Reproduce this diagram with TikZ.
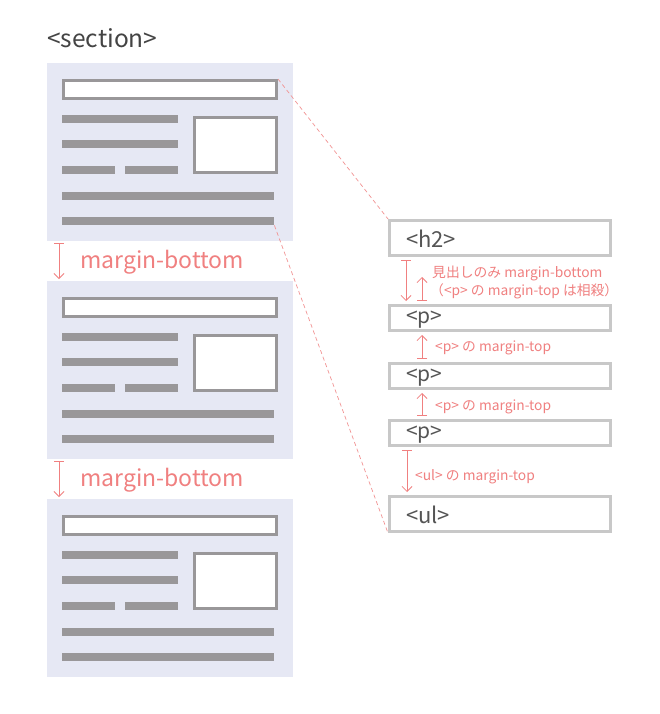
\documentclass[tikz,border=0pt]{standalone}
\usepackage{fontspec}
\setmainfont{Noto Sans CJK JP}
\usepackage{xcolor}
\usetikzlibrary{arrows.meta, positioning}

\definecolor{panelbg}{HTML}{E6E8F4}
\definecolor{bargray}{HTML}{999799}
\definecolor{boxgray}{HTML}{C8C8C8}
\definecolor{salmon}{HTML}{F08080}
\definecolor{taggray}{HTML}{555555}

\begin{document}
\begin{tikzpicture}[x=1pt, y=-1pt,
    panel/.style={fill=panelbg, minimum width=246pt, minimum height=178pt, inner sep=0pt, anchor=north west},
    framebox/.style={draw=bargray, fill=white, line width=3pt, inner sep=0pt, anchor=north west},
    bar/.style={fill=bargray, minimum height=8pt, inner sep=0pt, anchor=north west},
    tagbox/.style={draw=boxgray, line width=3pt, minimum width=221pt, text width=188pt, inner xsep=16pt, inner ysep=0pt, align=left, anchor=north west, text=taggray, font=\fontsize{21}{22}\selectfont, text height=14pt, text depth=4pt},
    bigtag/.style={tagbox, minimum height=35pt, font=\fontsize{22}{23}\selectfont, text height=18pt, text depth=0pt},
    dim/.style={draw=salmon, line width=0.8pt, {Bar[width=10pt]}-{Straight Barb[length=5pt,width=10pt]}},
    dimlabel/.style={text=salmon, anchor=base west, inner sep=0pt, font=\fontsize{13.8}{19}\selectfont},
    bigdim/.style={text=salmon, anchor=base west, inner sep=0pt, font=\fontsize{23}{25}\selectfont},
    leader/.style={draw=salmon!85, dash pattern=on 4pt off 3pt, line width=0.7pt}
]
    \fill[white] (0,0) rectangle (660,714);
    \useasboundingbox (0,0) rectangle (660,714);

    % --- Nodes ---
    % Section title
    \node[anchor=base west, inner sep=0pt, text=taggray!80!black, font=\fontsize{24.5}{26}\selectfont] (title) at (47,48) {<section>};

    % Section panels
    \foreach \i/\t in {1/63, 2/281, 3/499} {
        \node[panel] (sec\i) at (47,\t) {};
        \node[framebox, minimum width=213pt, minimum height=18pt] (head\i) at (62,\t+16) {};
        \node[framebox, minimum width=82pt, minimum height=55pt] (img\i) at (193,\t+53) {};
        \node[bar, minimum width=116pt] (bara\i) at (62,\t+52) {};
        \node[bar, minimum width=116pt] (barb\i) at (62,\t+77) {};
        \node[bar, minimum width=53pt] (barc\i) at (62,\t+103) {};
        \node[bar, minimum width=53pt] (bard\i) at (125,\t+103) {};
        \node[bar, minimum width=212pt] (bare\i) at (62,\t+129) {};
        \node[bar, minimum width=212pt] (lastbar\i) at (62,\t+154) {};
    }

    % Margins between sections
    \node[bigdim] (mb1) at (80,268) {margin-bottom};
    \node[bigdim] (mb2) at (80,486) {margin-bottom};

    % Element boxes
    \node[bigtag] (h2) at (388,219) {<h2>};
    \node[tagbox, minimum height=25pt] (p1) at (388,304) {<p>};
    \node[tagbox, minimum height=25pt] (p2) at (388,362) {<p>};
    \node[tagbox, minimum height=25pt] (p3) at (388,419) {<p>};
    \node[bigtag] (ul) at (388,495) {<ul>};

    % Margin notes
    \node[dimlabel] (note1) at (432,277) {見出しのみ margin-bottom};
    \node[dimlabel] (note2) at (430,295) {（<p> の margin-top は相殺）};
    \node[dimlabel] (note3) at (435,351) {<p> の margin-top};
    \node[dimlabel] (note4) at (435,410) {<p> の margin-top};
    \node[dimlabel] (note5) at (415,480) {<ul> の margin-top};
    \coordinate (ptop) at (422,277);

    % --- Edges ---
    \draw[dim] ([xshift=12pt,yshift=-2pt]sec1.south west) -- ([xshift=12pt,yshift=2pt]sec2.north west);
    \draw[dim] ([xshift=12pt,yshift=-2pt]sec2.south west) -- ([xshift=12pt,yshift=2pt]sec3.north west);

    \draw[dim] ([xshift=18pt,yshift=-3pt]h2.south west) -- ([xshift=18pt,yshift=3pt]p1.north west);
    \draw[dim] ([xshift=34pt,yshift=3pt]p1.north west) -- (ptop);
    \draw[dim] ([xshift=34pt,yshift=3pt]p2.north west) -- ([xshift=34pt,yshift=-3pt]p1.south west);
    \draw[dim] ([xshift=34pt,yshift=3pt]p3.north west) -- ([xshift=34pt,yshift=-3pt]p2.south west);
    \draw[dim] ([xshift=19pt,yshift=-3pt]p3.south west) -- ([xshift=19pt,yshift=3pt]ul.north west);

    % Leader lines
    \draw[leader] (head1.north east) -- (h2.north west);
    \draw[leader] (lastbar1.south east) -- (ul.south west);

\end{tikzpicture}
\end{document}
